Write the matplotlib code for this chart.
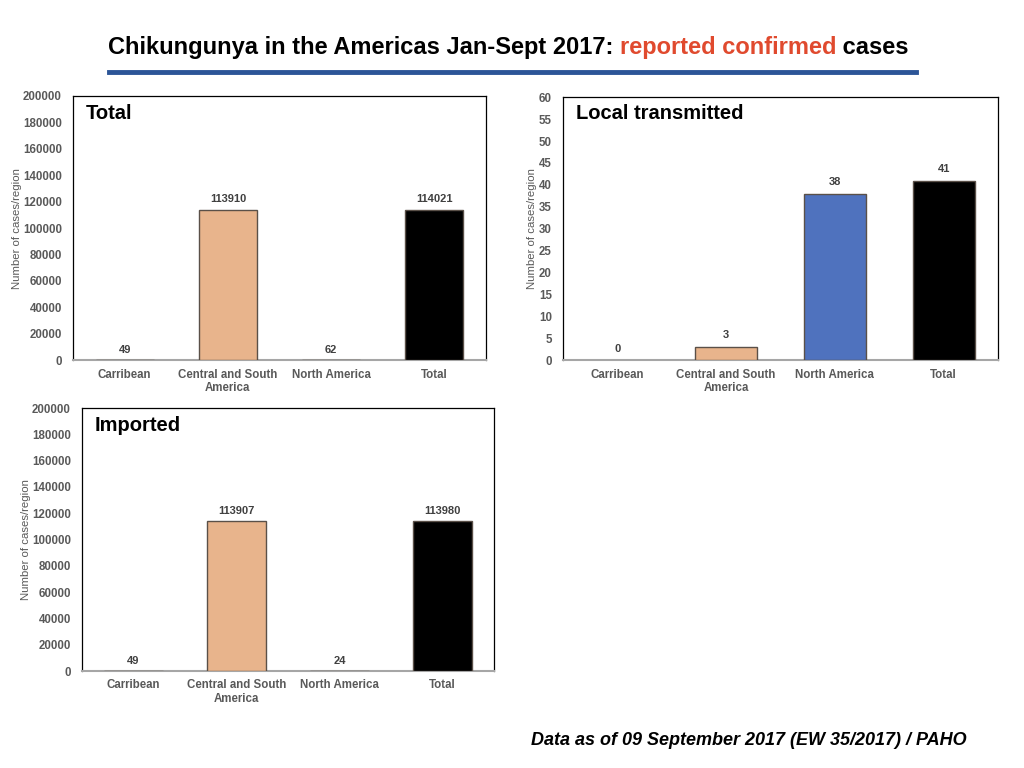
import matplotlib.pyplot as plt
from matplotlib.lines import Line2D

plt.rcParams['font.family'] = ['Liberation Sans', 'DejaVu Sans']

regions = ["Carribean", "Central and South\nAmerica", "North America", "Total"]
total_cases = [49, 113910, 62, 114021]
local_cases = [0, 3, 38, 41]
imported_cases = [49, 113907, 24, 113980]

bar_colors = ["#8c8c8c", "#E8B48C", "#4F72BE", "#000000"]
tick_gray = "#595959"


def draw_panel(ax, values, title, ymax, ystep, label_offset, bar_width, title_y=0.97):
    x = range(len(values))
    # no outline for empty bars
    widths = [0 if v == 0 else 1.0 for v in values]
    ax.bar(x, values, width=bar_width, color=bar_colors,
           edgecolor="#5a5048", linewidth=widths, zorder=3)
    for xi, v in zip(x, values):
        ax.text(xi, v + label_offset, str(v), ha="center", va="bottom",
                fontsize=8, fontweight="bold", color="#404040")
    ax.set_xlim(-0.5, len(values) - 0.5)
    ax.set_ylim(0, ymax)
    ax.set_yticks(range(0, ymax + 1, ystep))
    ax.set_xticks(list(x))
    ax.set_xticklabels(regions)
    ax.tick_params(length=0, labelsize=8.3, labelcolor=tick_gray, pad=6)
    ax.tick_params(axis="y", pad=8)
    for lab in ax.get_xticklabels() + ax.get_yticklabels():
        lab.set_fontweight("bold")
    for s in ["top", "right", "left"]:
        ax.spines[s].set_color("black")
        ax.spines[s].set_linewidth(0.9)
    ax.spines["bottom"].set_color("#a6a6a6")
    ax.spines["bottom"].set_linewidth(1.5)
    ax.set_ylabel("Number of cases/region", fontsize=8.2, color=tick_gray, labelpad=1)
    ax.text(0.03, title_y, title, transform=ax.transAxes, ha="left", va="top",
            fontsize=14.5, fontweight="bold", color="black")


fig = plt.figure(figsize=(10.24, 7.68), dpi=100)

ax1 = fig.add_axes([0.0713, 0.531, 0.4033, 0.344])
draw_panel(ax1, total_cases, "Total", 200000, 20000, 4000, 0.56)

ax2 = fig.add_axes([0.5498, 0.531, 0.4248, 0.3424])
draw_panel(ax2, local_cases, "Local transmitted", 60, 5, 1.5, 0.57, title_y=0.975)

ax3 = fig.add_axes([0.0801, 0.1263, 0.4023, 0.3424])
draw_panel(ax3, imported_cases, "Imported", 200000, 20000, 4000, 0.58)

# title with highlighted words
fs = 17
title_parts = [("Chikungunya in the Americas Jan-Sept 2017: ", "black"),
               ("reported confirmed", "#E04A2E"),
               (" cases", "black")]
xpos = 0.105
for txt, col in title_parts:
    t = fig.text(xpos, 0.938, txt, fontsize=fs, fontweight="bold", color=col, va="center")
    fig.canvas.draw()
    xpos = t.get_window_extent().x1 / fig.bbox.width

fig.add_artist(Line2D([0.106, 0.895], [0.906, 0.906], transform=fig.transFigure,
                      color="#2C5597", linewidth=3.5))

fig.text(0.944, 0.036, "Data as of 09 September 2017 (EW 35/2017) / PAHO",
         ha="right", va="center", fontsize=13, fontweight="bold", style="italic")

fig.savefig("out.png", dpi=100)
